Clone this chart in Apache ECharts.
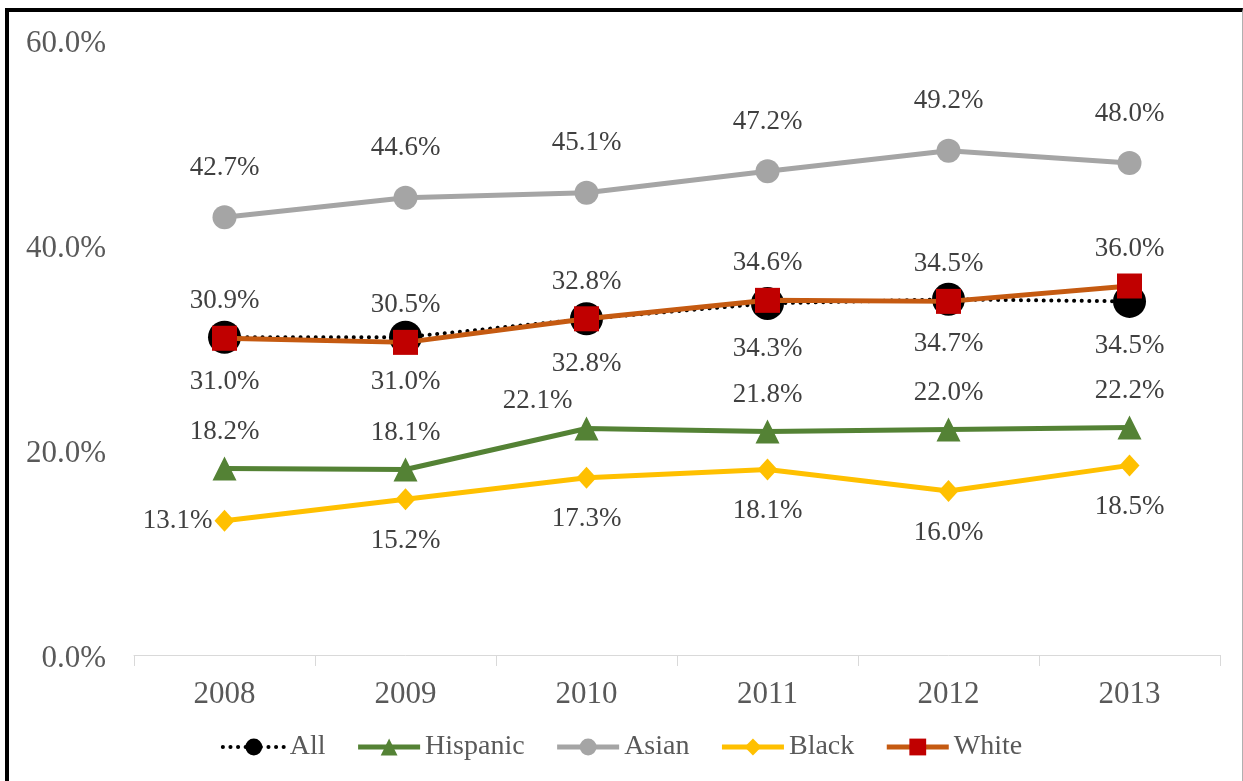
<!DOCTYPE html>
<html>
<head>
<meta charset="utf-8">
<script src="https://cdn.jsdelivr.net/npm/echarts@6/dist/echarts.min.js"></script>
<style>
html,body{margin:0;padding:0;background:#fff;}
#chart{position:absolute;left:0;top:0;width:1243px;height:781px;}
#frame{position:absolute;left:5px;top:8px;width:1233px;height:790px;border-top:4px solid #000;border-left:4px solid #000;border-right:1px solid #b0b0b0;pointer-events:none;}
</style>
</head>
<body>
<div id="chart"></div>
<div id="frame"></div>
<script>
const years = ['2008', '2009', '2010', '2011', '2012', '2013'];
const allVals = [31.0, 31.0, 32.8, 34.3, 34.7, 34.5];
const hispanicVals = [18.2, 18.1, 22.1, 21.8, 22.0, 22.2];
const asianVals = [42.7, 44.6, 45.1, 47.2, 49.2, 48.0];
const blackVals = [13.1, 15.2, 17.3, 18.1, 16.0, 18.5];
const whiteVals = [30.9, 30.5, 32.8, 34.6, 34.5, 36.0];
const yTicks = [0, 20, 40, 60];

const FONT = '"Liberation Serif", "Times New Roman", serif';
const fmt = p => p.value.toFixed(1) + '%';
const lbl = (pos, dist) => ({show: true, position: pos, distance: dist, formatter: fmt,
  fontFamily: FONT, fontSize: 27, color: '#404040'});

const chart = echarts.init(document.getElementById('chart'), null, {renderer: 'canvas'});
chart.setOption({
  animation: false,
  backgroundColor: '#fff',
  grid: {left: 134, right: 23, top: 40, bottom: 126},
  legend: {
    bottom: 15, left: 'center',
    itemWidth: 62, itemHeight: 21, itemGap: 30,
    textStyle: {fontFamily: FONT, fontSize: 28, color: '#595959'},
    data: [
      {name: 'All', lineStyle: {width: 4, type: [0.1, 7.5], cap: 'round'}},
      {name: 'Hispanic', lineStyle: {width: 5}},
      {name: 'Asian', lineStyle: {width: 5}},
      {name: 'Black', lineStyle: {width: 5}},
      {name: 'White', lineStyle: {width: 5}}
    ]
  },
  xAxis: {
    type: 'category', data: years, boundaryGap: true,
    axisLine: {lineStyle: {color: '#d9d9d9', width: 1}},
    axisTick: {show: true, length: 11, lineStyle: {color: '#d9d9d9'}},
    axisLabel: {fontFamily: FONT, fontSize: 31, color: '#595959', margin: 24}
  },
  yAxis: {
    type: 'value', min: yTicks[0], max: yTicks[yTicks.length - 1], interval: 20,
    axisLine: {show: false}, axisTick: {show: false}, splitLine: {show: false},
    axisLabel: {fontFamily: FONT, fontSize: 31, color: '#595959', margin: 28,
      verticalAlign: 'top', lineHeight: 8,
      formatter: v => v.toFixed(1) + '%'}
  },
  series: [
    {name: 'All', type: 'line', data: allVals, symbol: 'circle', symbolSize: 33,
      lineStyle: {color: '#000', width: 4, type: [0.1, 7.5], cap: 'round'},
      itemStyle: {color: '#000'}, label: lbl('bottom', 15), z: 2},
    {name: 'Hispanic', type: 'line', symbol: 'triangle', symbolSize: 24,
      data: hispanicVals.map((v, i) => i === 2 ? {value: v, label: {offset: [-49, 9]}} : v),
      lineStyle: {color: '#548235', width: 5}, itemStyle: {color: '#548235'},
      label: lbl('top', 11), z: 2},
    {name: 'Asian', type: 'line', data: asianVals, symbol: 'circle', symbolSize: 24,
      lineStyle: {color: '#a5a5a5', width: 5}, itemStyle: {color: '#a5a5a5'},
      label: lbl('top', 24), z: 2},
    {name: 'Black', type: 'line', symbol: 'diamond', symbolSize: [20, 22],
      data: blackVals.map((v, i) => i === 0 ? {value: v, label: {position: 'left', distance: 2}} : v),
      lineStyle: {color: '#ffc000', width: 5}, itemStyle: {color: '#ffc000'},
      label: lbl('bottom', 17), z: 2},
    {name: 'White', type: 'line', data: whiteVals, symbol: 'rect', symbolSize: 25,
      lineStyle: {color: '#c55a11', width: 5}, itemStyle: {color: '#c00000'},
      label: lbl('top', 11), z: 3}
  ]
});
</script>
</body>
</html>
